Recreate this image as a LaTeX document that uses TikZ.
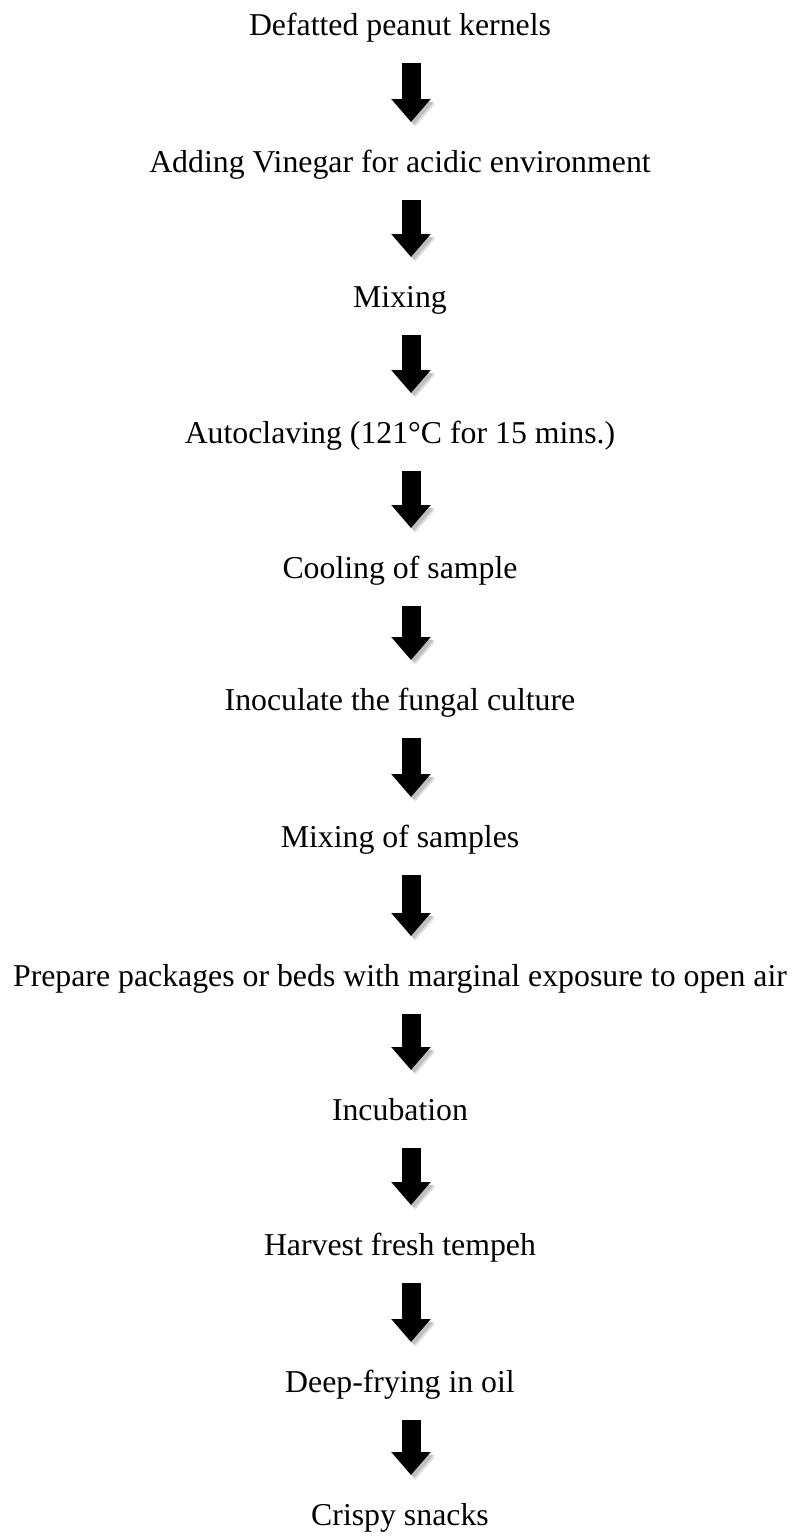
\documentclass[tikz,border=0pt]{standalone}
\usepackage{fontspec}
\setmainfont{Liberation Serif}
\usetikzlibrary{arrows.meta}
\tikzset{
  steptext/.style={anchor=base, inner sep=0pt, font=\fontsize{31.8pt}{38pt}\selectfont},
  flow/.style={line width=19pt, draw=black, -{Triangle[width=38pt,length=23pt]},
    preaction={draw=black!12, transform canvas={shift={(4.5pt,-4.5pt)}}},
    preaction={draw=black!25, transform canvas={shift={(3pt,-3pt)}}}}
}
\begin{document}
\begin{tikzpicture}[x=1pt,y=1pt]
\useasboundingbox (0,0) rectangle (796,-1537);
\def\cx{400}
\node[steptext] (t1) at (\cx,-35) {Defatted peanut kernels};
\node[steptext] (t2) at (\cx,-172) {Adding Vinegar for acidic environment};
\node[steptext] (t3) at (\cx,-307) {Mixing};
\node[steptext] (t4) at (\cx,-443) {Autoclaving (121°C for 15 mins.)};
\node[steptext] (t5) at (\cx,-578) {Cooling of sample};
\node[steptext] (t6) at (\cx,-710) {Inoculate the fungal culture};
\node[steptext] (t7) at (\cx,-847) {Mixing of samples};
\node[steptext] (t8) at (\cx,-986) {Prepare packages or beds with marginal exposure to open air};
\node[steptext] (t9) at (\cx,-1120) {Incubation};
\node[steptext] (t10) at (\cx,-1255) {Harvest fresh tempeh};
\node[steptext] (t11) at (\cx,-1392) {Deep-frying in oil};
\node[steptext] (t12) at (\cx,-1525) {Crispy snacks};
\foreach \a/\b in {t1/t2,t2/t3,t3/t4,t4/t5,t5/t6,t6/t7,t7/t8,t8/t9,t9/t10,t10/t11,t11/t12}{
  \draw[flow] ([xshift=11pt,yshift=-28pt]\a.base) -- ([xshift=11pt,yshift=50pt]\b.base);
}
\end{tikzpicture}
\end{document}
